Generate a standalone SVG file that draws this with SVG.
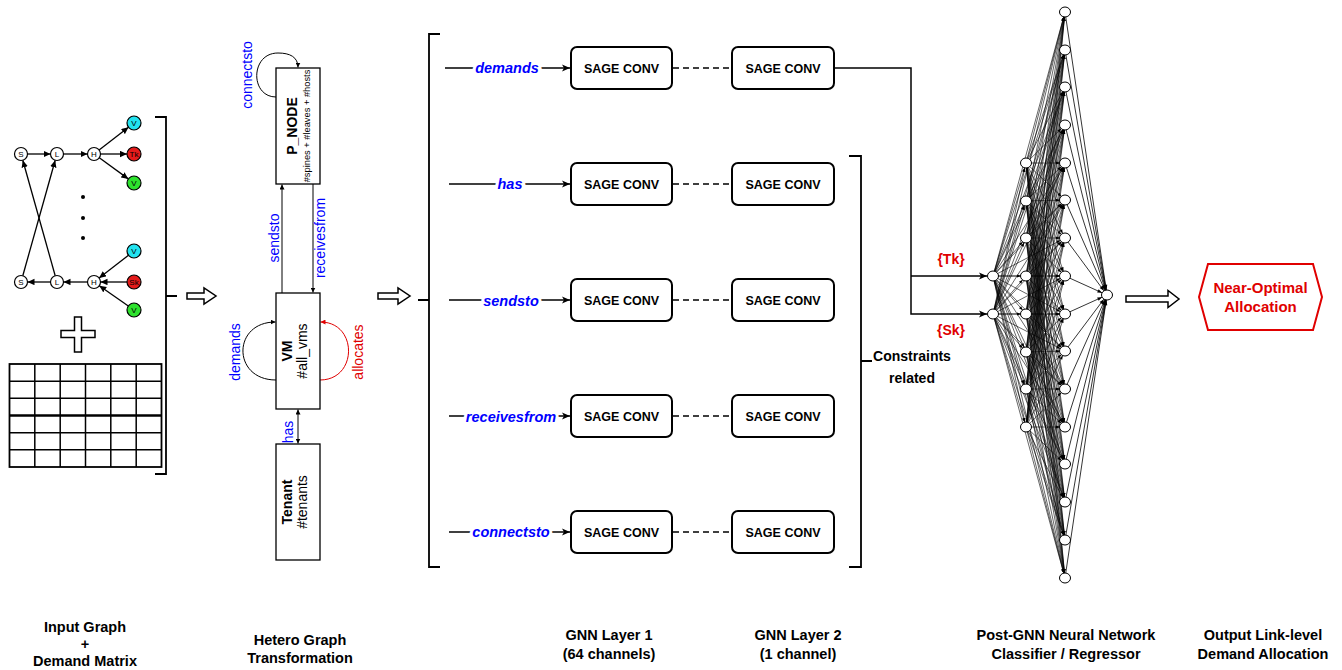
<svg xmlns="http://www.w3.org/2000/svg" width="1342" height="670" viewBox="0 0 1342 670">
<defs>
<style>
text{font-family:"Liberation Sans",Arial,sans-serif;}
.ln{fill:none;stroke:#000;stroke-width:1.5;}
.br{fill:none;stroke:#000;stroke-width:1.8;}
.thin{fill:none;stroke:#000;stroke-width:1;}
.nd{fill:#fff;stroke:#000;stroke-width:1.2;}
.nl{font-size:8px;text-anchor:middle;}
.box{fill:#fff;stroke:#000;stroke-width:1.3;}
.sage{fill:#fff;stroke:#000;stroke-width:2;}
.st{font-size:12.5px;font-weight:bold;text-anchor:middle;}
.el{font-size:14.5px;font-weight:bold;font-style:italic;fill:#0000ff;text-anchor:middle;stroke:#fff;stroke-width:6;paint-order:stroke;}
.bl{fill:#0000ff;font-size:14px;text-anchor:middle;}
.cap{font-size:14.5px;font-weight:bold;text-anchor:middle;}
.hol{fill:#fff;stroke:#000;stroke-width:1.5;}
.nn line{stroke:#000;stroke-width:0.6;marker-end:url(#an);}
.nn .out line{stroke-width:0.8;marker-end:url(#an2);}
.nnn ellipse{fill:#fff;stroke:#000;stroke-width:1;}
.dash{fill:none;stroke:#000;stroke-width:1.5;stroke-dasharray:6 4;}
.grid line{stroke:#000;stroke-width:1.5;}
</style>
<marker id="a" markerUnits="userSpaceOnUse" markerWidth="9" markerHeight="8" refX="8" refY="4" orient="auto"><path d="M0,0.5 L8,4 L0,7.5 L2,4 z" fill="#000"/></marker>
<marker id="a2" markerUnits="userSpaceOnUse" markerWidth="8" markerHeight="7" refX="7" refY="3.2" orient="auto"><path d="M0,0 L7,3.2 L0,6.4 z" fill="#000"/></marker>
<marker id="as" markerUnits="userSpaceOnUse" markerWidth="6" markerHeight="5" refX="5" refY="2.5" orient="auto-start-reverse"><path d="M0,0 L5,2.5 L0,5 z" fill="#000"/></marker>
<marker id="ar" markerUnits="userSpaceOnUse" markerWidth="6" markerHeight="5" refX="5" refY="2.5" orient="auto"><path d="M0,0 L5,2.5 L0,5 z" fill="#e00000"/></marker>
<marker id="an" markerUnits="userSpaceOnUse" markerWidth="6" markerHeight="5" refX="5" refY="0" orient="auto" overflow="visible"><path d="M-4,-1.5 L0,0 L-4,1.5 z" fill="#000"/></marker>
<marker id="an2" markerUnits="userSpaceOnUse" markerWidth="6" markerHeight="5" refX="5.5" refY="0" orient="auto" overflow="visible"><path d="M-4.5,-1.8 L0,0 L-4.5,1.8 z" fill="#000"/></marker>
</defs>
<rect width="1342" height="670" fill="#fff"/>

<!-- connectors -->
<g id="connectors">
  <!-- input graph edges -->
  <g class="thin" style="stroke-width:1.3">
    <line x1="27.5" y1="154" x2="50.5" y2="154" marker-end="url(#a2)"/>
    <line x1="63.5" y1="154" x2="87.5" y2="154" marker-end="url(#a2)"/>
    <line x1="99.1" y1="150" x2="128.5" y2="127.3" marker-end="url(#a2)"/>
    <line x1="100.5" y1="154" x2="127" y2="154" marker-end="url(#a2)"/>
    <line x1="99.3" y1="157.8" x2="128.3" y2="178.9" marker-end="url(#a2)"/>
    <line x1="87.5" y1="282" x2="63.5" y2="282" marker-end="url(#a2)"/>
    <line x1="50.5" y1="282" x2="27.5" y2="282" marker-end="url(#a2)"/>
    <line x1="128.5" y1="255.3" x2="99.1" y2="278" marker-end="url(#a2)"/>
    <line x1="127" y1="282" x2="100.5" y2="282" marker-end="url(#a2)"/>
    <line x1="128.3" y1="306" x2="99.3" y2="285.7" marker-end="url(#a2)"/>
    <line x1="22.8" y1="275.7" x2="55.2" y2="160.3" marker-end="url(#a2)"/>
    <line x1="55.2" y1="275.7" x2="22.8" y2="160.3" marker-end="url(#a2)"/>
  </g>
  <!-- hetero graph edges -->
  <path class="thin" d="M276,97 C250,97 250,53 278,53 C290,53 298,57 298,67.5" marker-end="url(#as)"/>
  <line class="thin" x1="282" y1="293" x2="282" y2="184.5" marker-end="url(#as)"/>
  <line class="thin" x1="313" y1="184" x2="313" y2="292.5" marker-end="url(#as)"/>
  <path class="thin" d="M276,380 C232,380 232,322 275.5,322" marker-end="url(#as)"/>
  <path d="M320,380 C358,380 358,322 320.5,322" fill="none" stroke="#e00000" stroke-width="1" marker-end="url(#ar)"/>
  <line class="thin" x1="298" y1="409.5" x2="298" y2="443.5" marker-start="url(#as)" marker-end="url(#as)"/>
  <!-- GNN input edges -->
  <line class="ln" x1="445" y1="68" x2="570" y2="68" marker-end="url(#a)"/>
  <line class="ln" x1="449" y1="184" x2="570" y2="184" marker-end="url(#a)"/>
  <line class="ln" x1="449" y1="300" x2="570" y2="300" marker-end="url(#a)"/>
  <line class="ln" x1="449" y1="416" x2="570" y2="416" marker-end="url(#a)"/>
  <line class="ln" x1="449" y1="532" x2="570" y2="532" marker-end="url(#a)"/>
  <text class="el" x="507" y="73">demands</text>
  <text class="el" x="510" y="189">has</text>
  <text class="el" x="511" y="306">sendsto</text>
  <text class="el" x="511" y="422">receivesfrom</text>
  <text class="el" x="511" y="537">connectsto</text>
  <!-- dashed between layers -->
  <line class="dash" x1="673" y1="68" x2="732" y2="68"/>
  <line class="dash" x1="673" y1="184" x2="732" y2="184"/>
  <line class="dash" x1="673" y1="300" x2="732" y2="300"/>
  <line class="dash" x1="673" y1="416" x2="732" y2="416"/>
  <line class="dash" x1="673" y1="532" x2="732" y2="532"/>
  <!-- to NN -->
  <path class="ln" d="M834,68 H911 V314 H987" marker-end="url(#a)"/>
  <path class="ln" d="M911,276 H987" marker-end="url(#a)"/>
  <text x="951" y="264" font-size="14" font-weight="bold" fill="#e00000" text-anchor="middle">{Tk}</text>
  <text x="951" y="335" font-size="14" font-weight="bold" fill="#e00000" text-anchor="middle">{Sk}</text>
  <!-- NN edges -->
  <g class="nn">
    <g transform="translate(993,276)">
      <line x2="33" y2="-113"/><line x2="33" y2="-75"/><line x2="33" y2="-38"/><line x2="33" y2="0"/><line x2="33" y2="38"/><line x2="33" y2="76"/><line x2="33" y2="113"/><line x2="33" y2="151"/>
      <line x2="72" y2="-264"/><line x2="72" y2="-226"/><line x2="72" y2="-189"/><line x2="72" y2="-151"/><line x2="72" y2="-113"/><line x2="72" y2="-76"/><line x2="72" y2="-38"/><line x2="72" y2="0"/><line x2="72" y2="38"/><line x2="72" y2="75"/><line x2="72" y2="113"/><line x2="72" y2="151"/><line x2="72" y2="188"/><line x2="72" y2="226"/><line x2="72" y2="264"/><line x2="72" y2="302"/>
    </g>
    <g transform="translate(993,314)">
      <line x2="33" y2="-151"/><line x2="33" y2="-113"/><line x2="33" y2="-76"/><line x2="33" y2="-38"/><line x2="33" y2="0"/><line x2="33" y2="38"/><line x2="33" y2="75"/><line x2="33" y2="113"/>
      <line x2="72" y2="-302"/><line x2="72" y2="-264"/><line x2="72" y2="-227"/><line x2="72" y2="-189"/><line x2="72" y2="-151"/><line x2="72" y2="-114"/><line x2="72" y2="-76"/><line x2="72" y2="-38"/><line x2="72" y2="0"/><line x2="72" y2="37"/><line x2="72" y2="75"/><line x2="72" y2="113"/><line x2="72" y2="150"/><line x2="72" y2="188"/><line x2="72" y2="226"/><line x2="72" y2="264"/>
    </g>
    <g transform="translate(1026,163)">
      <line x2="39" y2="-151"/><line x2="39" y2="-113"/><line x2="39" y2="-76"/><line x2="39" y2="-38"/><line x2="39" y2="0"/><line x2="39" y2="37"/><line x2="39" y2="75"/><line x2="39" y2="113"/><line x2="39" y2="151"/><line x2="39" y2="188"/><line x2="39" y2="226"/><line x2="39" y2="264"/><line x2="39" y2="301"/><line x2="39" y2="339"/><line x2="39" y2="377"/><line x2="39" y2="415"/>
    </g>
    <g transform="translate(1026,201)">
      <line x2="39" y2="-189"/><line x2="39" y2="-151"/><line x2="39" y2="-114"/><line x2="39" y2="-76"/><line x2="39" y2="-38"/><line x2="39" y2="-1"/><line x2="39" y2="37"/><line x2="39" y2="75"/><line x2="39" y2="113"/><line x2="39" y2="150"/><line x2="39" y2="188"/><line x2="39" y2="226"/><line x2="39" y2="263"/><line x2="39" y2="301"/><line x2="39" y2="339"/><line x2="39" y2="377"/>
    </g>
    <g transform="translate(1026,238)">
      <line x2="39" y2="-226"/><line x2="39" y2="-188"/><line x2="39" y2="-151"/><line x2="39" y2="-113"/><line x2="39" y2="-75"/><line x2="39" y2="-38"/><line x2="39" y2="0"/><line x2="39" y2="38"/><line x2="39" y2="76"/><line x2="39" y2="113"/><line x2="39" y2="151"/><line x2="39" y2="189"/><line x2="39" y2="226"/><line x2="39" y2="264"/><line x2="39" y2="302"/><line x2="39" y2="340"/>
    </g>
    <g transform="translate(1026,276)">
      <line x2="39" y2="-264"/><line x2="39" y2="-226"/><line x2="39" y2="-189"/><line x2="39" y2="-151"/><line x2="39" y2="-113"/><line x2="39" y2="-76"/><line x2="39" y2="-38"/><line x2="39" y2="0"/><line x2="39" y2="38"/><line x2="39" y2="75"/><line x2="39" y2="113"/><line x2="39" y2="151"/><line x2="39" y2="188"/><line x2="39" y2="226"/><line x2="39" y2="264"/><line x2="39" y2="302"/>
    </g>
    <g transform="translate(1026,314)">
      <line x2="39" y2="-302"/><line x2="39" y2="-264"/><line x2="39" y2="-227"/><line x2="39" y2="-189"/><line x2="39" y2="-151"/><line x2="39" y2="-114"/><line x2="39" y2="-76"/><line x2="39" y2="-38"/><line x2="39" y2="0"/><line x2="39" y2="37"/><line x2="39" y2="75"/><line x2="39" y2="113"/><line x2="39" y2="150"/><line x2="39" y2="188"/><line x2="39" y2="226"/><line x2="39" y2="264"/>
    </g>
    <g transform="translate(1026,352)">
      <line x2="39" y2="-340"/><line x2="39" y2="-302"/><line x2="39" y2="-265"/><line x2="39" y2="-227"/><line x2="39" y2="-189"/><line x2="39" y2="-152"/><line x2="39" y2="-114"/><line x2="39" y2="-76"/><line x2="39" y2="-38"/><line x2="39" y2="-1"/><line x2="39" y2="37"/><line x2="39" y2="75"/><line x2="39" y2="112"/><line x2="39" y2="150"/><line x2="39" y2="188"/><line x2="39" y2="226"/>
    </g>
    <g transform="translate(1026,389)">
      <line x2="39" y2="-377"/><line x2="39" y2="-339"/><line x2="39" y2="-302"/><line x2="39" y2="-264"/><line x2="39" y2="-226"/><line x2="39" y2="-189"/><line x2="39" y2="-151"/><line x2="39" y2="-113"/><line x2="39" y2="-75"/><line x2="39" y2="-38"/><line x2="39" y2="0"/><line x2="39" y2="38"/><line x2="39" y2="75"/><line x2="39" y2="113"/><line x2="39" y2="151"/><line x2="39" y2="189"/>
    </g>
    <g transform="translate(1026,427)">
      <line x2="39" y2="-415"/><line x2="39" y2="-377"/><line x2="39" y2="-340"/><line x2="39" y2="-302"/><line x2="39" y2="-264"/><line x2="39" y2="-227"/><line x2="39" y2="-189"/><line x2="39" y2="-151"/><line x2="39" y2="-113"/><line x2="39" y2="-76"/><line x2="39" y2="-38"/><line x2="39" y2="0"/><line x2="39" y2="37"/><line x2="39" y2="75"/><line x2="39" y2="113"/><line x2="39" y2="151"/>
    </g>
    <g class="out" transform="translate(1107,295)">
      <line x1="-42" y1="-283"/><line x1="-42" y1="-245"/><line x1="-42" y1="-208"/><line x1="-42" y1="-170"/><line x1="-42" y1="-132"/><line x1="-42" y1="-95"/><line x1="-42" y1="-57"/><line x1="-42" y1="-19"/><line x1="-42" y1="19"/><line x1="-42" y1="56"/><line x1="-42" y1="94"/><line x1="-42" y1="132"/><line x1="-42" y1="169"/><line x1="-42" y1="207"/><line x1="-42" y1="245"/><line x1="-42" y1="283"/>
    </g>
  </g>
</g>

<!-- Input graph nodes -->
<g id="input-graph">
  <g id="g-s1"><circle class="nd" cx="21" cy="154" r="6.5"/><text class="nl" x="21" y="157">S</text></g>
  <g id="g-l1"><circle class="nd" cx="57" cy="154" r="6.5"/><text class="nl" x="57" y="157">L</text></g>
  <g id="g-h1"><circle class="nd" cx="94" cy="154" r="6.5"/><text class="nl" x="94" y="157">H</text></g>
  <g id="g-v1"><circle cx="134" cy="123" r="7" fill="#22e3f0" stroke="#000" stroke-width="1.2"/><text class="nl" x="134" y="126">V</text></g>
  <g id="g-tk"><circle cx="134" cy="154" r="7" fill="#e41b1b" stroke="#000" stroke-width="1.2"/><text class="nl" x="134" y="157">Tk</text></g>
  <g id="g-v2"><circle cx="134" cy="183" r="7" fill="#2ee22e" stroke="#000" stroke-width="1.2"/><text class="nl" x="134" y="186">V</text></g>
  <g id="g-s2"><circle class="nd" cx="21" cy="282" r="6.5"/><text class="nl" x="21" y="285">S</text></g>
  <g id="g-l2"><circle class="nd" cx="57" cy="282" r="6.5"/><text class="nl" x="57" y="285">L</text></g>
  <g id="g-h2"><circle class="nd" cx="94" cy="282" r="6.5"/><text class="nl" x="94" y="285">H</text></g>
  <g id="g-v3"><circle cx="134" cy="251" r="7" fill="#22e3f0" stroke="#000" stroke-width="1.2"/><text class="nl" x="134" y="254">V</text></g>
  <g id="g-sk"><circle cx="134" cy="282" r="7" fill="#e41b1b" stroke="#000" stroke-width="1.2"/><text class="nl" x="134" y="285">Sk</text></g>
  <g id="g-v4"><circle cx="134" cy="310" r="7" fill="#2ee22e" stroke="#000" stroke-width="1.2"/><text class="nl" x="134" y="313">V</text></g>
  <g id="g-dots"><circle cx="83" cy="197" r="2"/><circle cx="83" cy="218" r="2"/><circle cx="83" cy="238" r="2"/></g>
  <g id="plus"><path class="hol" d="M74.5,317 H81.5 V330.5 H95 V337.5 H81.5 V352 H74.5 V337.5 H61 V330.5 H74.5 Z"/></g>
  <g id="matrix" class="grid">
    <rect x="9.5" y="364" width="152" height="103" fill="#fff" stroke="#000" stroke-width="1.8"/>
    <line x1="34.8" y1="364" x2="34.8" y2="467"/><line x1="60.2" y1="364" x2="60.2" y2="467"/><line x1="85.5" y1="364" x2="85.5" y2="467"/><line x1="110.8" y1="364" x2="110.8" y2="467"/><line x1="136.2" y1="364" x2="136.2" y2="467"/>
    <line x1="9.5" y1="381.2" x2="161.5" y2="381.2"/><line x1="9.5" y1="398.3" x2="161.5" y2="398.3"/><line x1="9.5" y1="415.5" x2="161.5" y2="415.5" style="stroke-width:2.5"/><line x1="9.5" y1="432.7" x2="161.5" y2="432.7"/><line x1="9.5" y1="449.8" x2="161.5" y2="449.8"/>
  </g>
  <path id="bracket-left" class="br" d="M155,117 H166 V474 H155 M166,296 H177"/>
</g>

<g id="arrow-1"><polygon class="hol" points="187,293 204,293 204,288 216,296 204,304 204,299 187,299"/></g>

<!-- Hetero graph -->
<g id="hetero">
  <g id="p-node"><rect class="box" x="276" y="68" width="44" height="116"/>
    <text transform="rotate(-90 297 126)" x="297" y="126" font-size="14" font-weight="bold" text-anchor="middle">P_NODE</text>
    <text transform="rotate(-90 309.5 126)" x="309.5" y="126" font-size="9.3" text-anchor="middle">#spines + #leaves + #hosts</text>
  </g>
  <g id="vm"><rect class="box" x="276" y="293" width="44" height="116"/>
    <text transform="rotate(-90 292 351)" x="292" y="351" font-size="14" font-weight="bold" text-anchor="middle">VM</text>
    <text transform="rotate(-90 307 351)" x="307" y="351" font-size="14" text-anchor="middle">#all_vms</text>
  </g>
  <g id="tenant"><rect class="box" x="276" y="444" width="44" height="116"/>
    <text transform="rotate(-90 292 502)" x="292" y="502" font-size="14" font-weight="bold" text-anchor="middle">Tenant</text>
    <text transform="rotate(-90 307 502)" x="307" y="502" font-size="14" text-anchor="middle">#tenants</text>
  </g>
  <text class="bl" transform="rotate(-90 252 75)" x="252" y="75">connectsto</text>
  <text class="bl" transform="rotate(-90 279 238)" x="279" y="238">sendsto</text>
  <text class="bl" transform="rotate(-90 325 238)" x="325" y="238">receivesfrom</text>
  <text class="bl" transform="rotate(-90 240 352)" x="240" y="352">demands</text>
  <text class="bl" transform="rotate(-90 363 352)" x="363" y="352" style="fill:#e00000">allocates</text>
  <text class="bl" transform="rotate(-90 293 432)" x="293" y="432">has</text>
</g>

<g id="arrow-2"><polygon class="hol" points="378,293 398,293 398,288 410,296 398,304 398,299 378,299"/></g>

<!-- GNN -->
<g id="gnn">
  <path id="bracket-gnn" class="br" d="M440,34 H429 V567 H440 M418,300 H429"/>
  <g id="l1-demands"><rect class="sage" x="571" y="47" width="101" height="42" rx="6"/><text class="st" x="621.5" y="72.5">SAGE CONV</text></g>
  <g id="l2-demands"><rect class="sage" x="732" y="47" width="102" height="42" rx="6"/><text class="st" x="783" y="72.5">SAGE CONV</text></g>
  <g id="l1-has"><rect class="sage" x="571" y="163" width="101" height="42" rx="6"/><text class="st" x="621.5" y="188.5">SAGE CONV</text></g>
  <g id="l2-has"><rect class="sage" x="732" y="163" width="102" height="42" rx="6"/><text class="st" x="783" y="188.5">SAGE CONV</text></g>
  <g id="l1-sendsto"><rect class="sage" x="571" y="279" width="101" height="42" rx="6"/><text class="st" x="621.5" y="304.5">SAGE CONV</text></g>
  <g id="l2-sendsto"><rect class="sage" x="732" y="279" width="102" height="42" rx="6"/><text class="st" x="783" y="304.5">SAGE CONV</text></g>
  <g id="l1-receivesfrom"><rect class="sage" x="571" y="395" width="101" height="42" rx="6"/><text class="st" x="621.5" y="420.5">SAGE CONV</text></g>
  <g id="l2-receivesfrom"><rect class="sage" x="732" y="395" width="102" height="42" rx="6"/><text class="st" x="783" y="420.5">SAGE CONV</text></g>
  <g id="l1-connectsto"><rect class="sage" x="571" y="511" width="101" height="42" rx="6"/><text class="st" x="621.5" y="536.5">SAGE CONV</text></g>
  <g id="l2-connectsto"><rect class="sage" x="732" y="511" width="102" height="42" rx="6"/><text class="st" x="783" y="536.5">SAGE CONV</text></g>
  <path id="bracket-constraints" class="br" d="M849,156 H861 V567 H849 M861,361 H872"/>
  <g id="constraints-label"><text x="912" y="361" font-size="14" font-weight="bold" text-anchor="middle">Constraints</text><text x="912" y="383" font-size="14" font-weight="bold" text-anchor="middle">related</text></g>
</g>

<!-- NN nodes -->
<g id="nn-nodes" class="nnn">
  <g id="nn-l2"><ellipse cx="993" cy="276" rx="5.5" ry="5"/><ellipse cx="993" cy="314" rx="5.5" ry="5"/></g>
  <g id="nn-l3"><ellipse cx="1026" cy="163" rx="5.5" ry="5"/><ellipse cx="1026" cy="201" rx="5.5" ry="5"/><ellipse cx="1026" cy="238" rx="5.5" ry="5"/><ellipse cx="1026" cy="276" rx="5.5" ry="5"/><ellipse cx="1026" cy="314" rx="5.5" ry="5"/><ellipse cx="1026" cy="352" rx="5.5" ry="5"/><ellipse cx="1026" cy="389" rx="5.5" ry="5"/><ellipse cx="1026" cy="427" rx="5.5" ry="5"/></g>
  <g id="nn-l4"><ellipse cx="1065" cy="12" rx="5.5" ry="5"/><ellipse cx="1065" cy="50" rx="5.5" ry="5"/><ellipse cx="1065" cy="87" rx="5.5" ry="5"/><ellipse cx="1065" cy="125" rx="5.5" ry="5"/><ellipse cx="1065" cy="163" rx="5.5" ry="5"/><ellipse cx="1065" cy="200" rx="5.5" ry="5"/><ellipse cx="1065" cy="238" rx="5.5" ry="5"/><ellipse cx="1065" cy="276" rx="5.5" ry="5"/><ellipse cx="1065" cy="314" rx="5.5" ry="5"/><ellipse cx="1065" cy="351" rx="5.5" ry="5"/><ellipse cx="1065" cy="389" rx="5.5" ry="5"/><ellipse cx="1065" cy="427" rx="5.5" ry="5"/><ellipse cx="1065" cy="464" rx="5.5" ry="5"/><ellipse cx="1065" cy="502" rx="5.5" ry="5"/><ellipse cx="1065" cy="540" rx="5.5" ry="5"/><ellipse cx="1065" cy="578" rx="5.5" ry="5"/></g>
  <g id="nn-out"><ellipse cx="1107" cy="295" rx="5.5" ry="5"/></g>
</g>

<g id="arrow-3"><polygon class="hol" points="1126,296 1168,296 1168,290.5 1179,299 1168,307.5 1168,302 1126,302"/></g>

<g id="output">
  <polygon points="1199,297 1208,264 1313,264 1322,297 1313,330 1208,330" fill="#fff" stroke="#e00000" stroke-width="2"/>
  <text x="1260.5" y="293" font-size="15" font-weight="bold" fill="#e00000" text-anchor="middle">Near-Optimal</text>
  <text x="1260.5" y="312" font-size="15" font-weight="bold" fill="#e00000" text-anchor="middle">Allocation</text>
</g>

<!-- captions -->
<g id="captions">
  <text class="cap" x="85" y="632">Input Graph</text>
  <text class="cap" x="85" y="649">+</text>
  <text class="cap" x="85" y="666">Demand Matrix</text>
  <text class="cap" x="300" y="645">Hetero Graph</text>
  <text class="cap" x="300" y="663">Transformation</text>
  <text class="cap" x="609" y="640">GNN Layer 1</text>
  <text class="cap" x="609" y="659">(64 channels)</text>
  <text class="cap" x="798" y="640">GNN Layer 2</text>
  <text class="cap" x="798" y="659">(1 channel)</text>
  <text class="cap" x="1066" y="640">Post-GNN Neural Network</text>
  <text class="cap" x="1066" y="659">Classifier / Regressor</text>
  <text class="cap" x="1263" y="640">Output Link-level</text>
  <text class="cap" x="1263" y="659">Demand Allocation</text>
</g>
</svg>
